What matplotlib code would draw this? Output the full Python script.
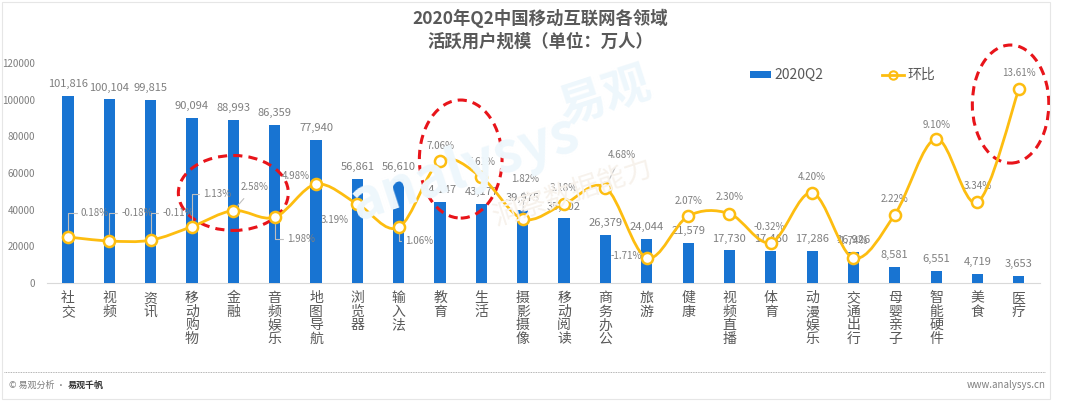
import numpy as np
import matplotlib
matplotlib.use("Agg")
import matplotlib.pyplot as plt
from matplotlib.path import Path
from matplotlib.patches import PathPatch, Ellipse, Rectangle
from matplotlib.lines import Line2D

plt.rcParams['font.family'] = ['Noto Sans CJK SC', 'DejaVu Sans']

# ---- data ----
categories = ["社交", "视频", "资讯", "移动购物", "金融", "音频娱乐", "地图导航", "浏览器",
              "输入法", "教育", "生活", "摄影摄像", "移动阅读", "商务办公", "旅游", "健康",
              "视频直播", "体育", "动漫娱乐", "交通出行", "母婴亲子", "智能硬件", "美食", "医疗"]
users_q2 = [101816, 100104, 99815, 90094, 88993, 86359, 77940, 56861,
            56610, 44147, 43177, 39975, 35202, 26379, 24044, 21579,
            17730, 17460, 17286, 16926, 8581, 6551, 4719, 3653]
qoq_pct = [0.18, -0.18, -0.11, 1.13, 2.58, 1.98, 4.98, 3.19,
           1.06, 7.06, 5.61, 1.82, 3.18, 4.68, -1.71, 2.07,
           2.30, -0.32, 4.20, -1.74, 2.22, 9.10, 3.34, 13.61]
yticks = [0, 20000, 40000, 60000, 80000, 100000, 120000]

BLUE = "#1874d2"
GOLD = "#fdbd10"
GREY = "#7f7f7f"
DARK = "#595959"

fig = plt.figure(figsize=(10.8, 4.01), dpi=100)
fig.patch.set_facecolor("white")

# light frame + footer
fig.add_artist(Rectangle((0.002, 0.006), 0.970, 0.990, transform=fig.transFigure,
                         fill=False, edgecolor="#e6e6e6", lw=0.8))
fig.add_artist(Line2D([0.004, 0.968], [0.072, 0.072], transform=fig.transFigure,
                      color="#9a9a9a", lw=0.6, ls=(0, (1, 1))))
fig.text(0.008, 0.040, "© 易观分析 ·", fontsize=6.5, color=GREY, va="center")
fig.text(0.063, 0.040, "易观千帆", fontsize=6.5, color="#333333", va="center", fontweight="bold")
fig.text(0.968, 0.040, "www.analysys.cn", fontsize=7, color=GREY, va="center", ha="right")

# title
fig.text(0.5, 0.955, "2020年Q2中国移动互联网各领域", fontsize=12.5, color=DARK,
         ha="center", va="center", fontweight="bold")
fig.text(0.5, 0.897, "活跃用户规模（单位：万人）", fontsize=12.5, color=DARK,
         ha="center", va="center", fontweight="bold")

# faint watermark
fig.text(0.43, 0.58, "analysys", fontsize=40, color="#eef7fc", rotation=18,
         ha="center", va="center", fontweight="bold", style="italic", zorder=0)
fig.text(0.56, 0.76, "易观", fontsize=34, color="#eef7fc", rotation=18,
         ha="center", va="center", fontweight="bold", zorder=0)
fig.text(0.53, 0.52, "洞察数据能力", fontsize=20, color="#f7f2ec", rotation=18,
         ha="center", va="center", zorder=0)

ax = fig.add_axes([0.0438, 0.2943, 0.9187, 0.5486])
ax.set_facecolor("none")
x = np.arange(len(categories))
ax.bar(x, users_q2, width=0.27, color=BLUE, zorder=3)
ax.set_xlim(-0.5, len(categories) - 0.5)
ax.set_ylim(0, 120000)
ax.set_yticks(yticks)
ax.set_yticklabels([str(v) for v in yticks], fontsize=7, color=GREY)
ax.set_xticks(x)
ax.set_xticklabels(["\n".join(c) for c in categories], fontsize=10, color=DARK,
                   va="top", linespacing=0.95)
ax.tick_params(axis="both", length=0, pad=6)
ax.tick_params(axis="y", pad=9)
for s in ["top", "right", "left"]:
    ax.spines[s].set_visible(False)
ax.spines["bottom"].set_color("#d9d9d9")

for xi, v in zip(x, users_q2):
    ax.annotate(f"{v:,}", (xi, v), xytext=(0, 5), textcoords="offset points",
                ha="center", va="bottom", fontsize=8, color=GREY, zorder=4)

# secondary axis for the QoQ line
ax2 = ax.twinx()
ax2.set_ylim(-4, 16)
ax2.axis("off")

# smooth line through the points (Catmull-Rom drawn as Bezier segments)
pts = np.column_stack([x, qoq_pct]).astype(float)
verts = [tuple(pts[0])]
codes = [Path.MOVETO]
for i in range(len(pts) - 1):
    p0 = pts[i - 1] if i > 0 else pts[i]
    p1, p2 = pts[i], pts[i + 1]
    p3 = pts[i + 2] if i + 2 < len(pts) else pts[i + 1]
    c1 = p1 + (p2 - p0) / 6.0
    c2 = p2 - (p3 - p1) / 6.0
    verts += [tuple(c1), tuple(c2), tuple(p2)]
    codes += [Path.CURVE4] * 3
ax2.add_patch(PathPatch(Path(verts, codes), fill=False, edgecolor=GOLD, lw=2.0, zorder=5))
ax2.plot(x, qoq_pct, ls="none", marker="o", ms=8, mfc="white", mec=GOLD, mew=1.8, zorder=6)

# label offsets in pixels (dx, dy, ha, leader style)
lab = [(13, 24, "left", "elbow"), (12, 28, "left", "elbow"), (12, 27, "left", "elbow"),
       (11, 33, "left", "elbow"), (7, 24, "left", "line"), (12, -22, "left", "elbow"),
       (-20, 8, "center", None), (-23, -16, "center", None), (6, -14, "left", "elbow"),
       (0, 15, "center", None), (0, 15, "center", None), (2, 40, "center", "line"),
       (0, 16, "center", None), (16, 33, "center", "line"), (-5, 2, "right", None),
       (0, 15, "center", None), (0, 17, "center", None), (-2, 16, "center", None),
       (0, 16, "center", None), (-1, 17, "center", "line"), (0, 16, "center", None),
       (0, 14, "center", None), (0, 16, "center", None), (0, 16, "center", None)]
for xi, p, (dx, dy, ha, st) in zip(x, qoq_pct, lab):
    kw = {}
    if st == "elbow":
        kw["arrowprops"] = dict(arrowstyle="-", color="#bfbfbf", lw=0.8, shrinkA=1, shrinkB=5,
                                connectionstyle="angle,angleA=0,angleB=90,rad=0")
    elif st == "line":
        kw["arrowprops"] = dict(arrowstyle="-", color="#bfbfbf", lw=0.8, shrinkA=4, shrinkB=5)
    ax2.annotate(f"{p:.2f}%", (xi, p), xytext=(dx, dy), textcoords="offset pixels",
                 ha=ha, va="center", fontsize=7, color=GREY, zorder=2, **kw)

# dashed red highlight ellipses (category index, value units on ax)
for cx, cy, w, h in [(4.0, 49100, 2.66, 40900), (9.5, 67600, 2.0, 64400), (22.8, 97600, 1.85, 64400)]:
    ax.add_patch(Ellipse((cx, cy), w, h, fill=False, edgecolor="#e8141a", lw=2.2,
                         ls=(0, (3, 2)), zorder=8, clip_on=False))

# legend
fig.add_artist(Rectangle((0.694, 0.806), 0.020, 0.016, transform=fig.transFigure,
                         facecolor=BLUE, edgecolor="none"))
fig.text(0.717, 0.814, "2020Q2", fontsize=10, color=DARK, va="center")
fig.add_artist(Line2D([0.817, 0.837], [0.814, 0.814], transform=fig.transFigure,
                      color=GOLD, lw=2, zorder=5))
fig.add_artist(Line2D([0.827], [0.814], transform=fig.transFigure, ls="none",
                      marker="o", ms=6, mfc="white", mec=GOLD, mew=1.5))
fig.text(0.840, 0.814, "环比", fontsize=10, color=DARK, va="center")

fig.savefig("out.png", dpi=100, facecolor="white")
